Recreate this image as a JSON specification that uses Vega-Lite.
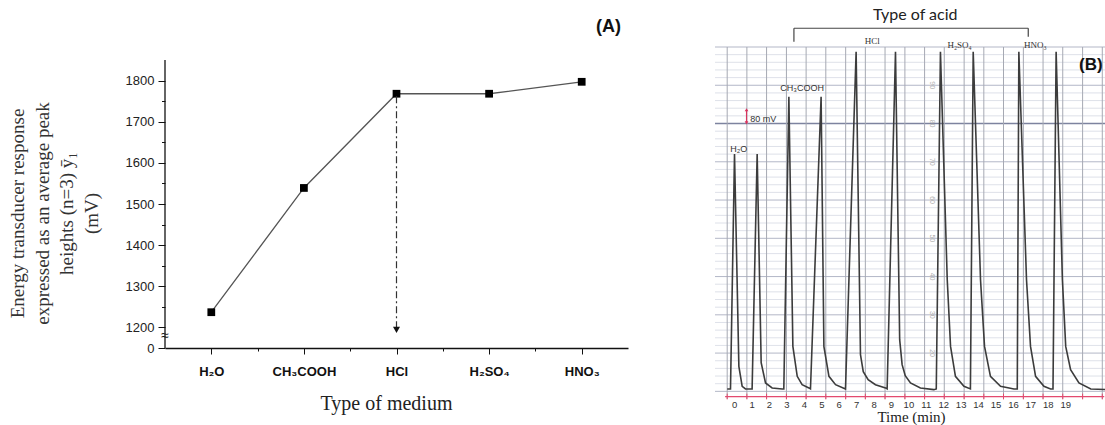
{
"$schema": "https://vega.github.io/schema/vega-lite/v6.json",
"background": "white",
"padding": {"left": 8, "top": 6, "right": 0, "bottom": 0},
"spacing": 86,
"config": {"view": {"stroke": null}, "font": "Liberation Sans", "axis": {"labelOverlap": false}},
"hconcat": [
{
 "width": 463, "height": 301,
 "title": {"text": "(A)", "anchor": "end", "offset": 11, "dx": -7, "font": "Liberation Sans", "fontSize": 18, "fontWeight": "bold", "color": "#111"},
 "layer": [
  {
   "data": {"values": [{"x": 0.5, "y": 1150, "y2": 1850}]},
   "mark": {"type": "rule", "color": "#111", "strokeWidth": 1.3},
   "encoding": {
    "x": {"field": "x", "type": "quantitative", "scale": {"domain": [0.5, 5.5], "nice": false, "zero": false},
     "axis": {"values": [1, 1.5, 2, 2.5, 3, 3.5, 4, 4.5, 5], "tickCount": 100,
      "labelExpr": "datum.value==1?'H₂O':datum.value==2?'CH₃COOH':datum.value==3?'HCl':datum.value==4?'H₂SO₄':datum.value==5?'HNO₃':''",
      "title": "Type of medium", "titleFont": "Liberation Serif", "titleFontSize": 20, "titleFontWeight": "normal", "titleColor": "#222", "titlePadding": 15, "titleX": 221,
      "labelFont": "Liberation Sans", "labelFontSize": 13, "labelFontWeight": "bold", "labelColor": "#111", "labelPadding": 11, "labelOverlap": false, "labelFlush": false,
      "tickSize": {"condition": {"test": "datum.value % 1 === 0", "value": 6}, "value": 3},
      "tickColor": "#111", "tickWidth": 1, "domainColor": "#111", "domainWidth": 1.3, "grid": false}},
    "y": {"field": "y", "type": "quantitative", "scale": {"domain": [1150, 1881.6], "nice": false, "zero": false},
     "axis": {"values": [1150, 1200, 1250, 1300, 1350, 1400, 1450, 1500, 1550, 1600, 1650, 1700, 1750, 1800], "tickCount": 100,
      "labelExpr": "datum.value==1150?'0':(datum.value%100==0?format(datum.value,'d'):'')",
      "tickSize": {"condition": {"test": "datum.value % 100 === 0 || datum.value === 1150", "value": 7}, "value": 3.5},
      "tickColor": "#111", "tickWidth": 1, "domain": false, "grid": false,
      "labelFont": "Liberation Sans", "labelFontSize": 13, "labelColor": "#222", "labelPadding": 4, "labelOverlap": false, "labelFlush": false,
      "title": ["Energy transducer response", "expressed as an average peak", "heights (n=3) ȳ₁", "(mV)"],
      "titleFont": "Liberation Serif", "titleFontSize": 19, "titleFontWeight": "normal", "titleColor": "#333", "titleLineHeight": 24.5, "titlePadding": 24, "titleY": 166}},
    "y2": {"field": "y2"}
   }
  },
  {
   "data": {"values": [{"medium": "H₂O", "x": 1, "y": 1237}, {"medium": "CH₃COOH", "x": 2, "y": 1539}, {"medium": "HCl", "x": 3, "y": 1768}, {"medium": "H₂SO₄", "x": 4, "y": 1768}, {"medium": "HNO₃", "x": 5, "y": 1797}]},
   "layer": [
    {"mark": {"type": "line", "color": "#555", "strokeWidth": 1.3},
     "encoding": {"x": {"field": "x", "type": "quantitative", "scale": {"domain": [0.5, 5.5], "nice": false, "zero": false}},
                  "y": {"field": "y", "type": "quantitative", "scale": {"domain": [1150, 1881.6], "nice": false, "zero": false}}}},
    {"mark": {"type": "point", "shape": "square", "filled": true, "color": "#000", "size": 60, "opacity": 1},
     "encoding": {"x": {"field": "x", "type": "quantitative", "scale": {"domain": [0.5, 5.5], "nice": false, "zero": false}},
                  "y": {"field": "y", "type": "quantitative", "scale": {"domain": [1150, 1881.6], "nice": false, "zero": false}}}}
   ]
  },
  {
   "data": {"values": [{"x": 3, "y": 1762, "y2": 1198}]},
   "mark": {"type": "rule", "color": "#333", "strokeWidth": 1.2, "strokeDash": [7, 3, 2, 3]},
   "encoding": {"x": {"field": "x", "type": "quantitative", "scale": {"domain": [0.5, 5.5], "nice": false, "zero": false}},
                "y": {"field": "y", "type": "quantitative", "scale": {"domain": [1150, 1881.6], "nice": false, "zero": false}},
                "y2": {"field": "y2"}}
  },
  {
   "data": {"values": [{"x": 3, "y": 1194}]},
   "mark": {"type": "point", "shape": "triangle-down", "filled": true, "color": "#111", "size": 50, "opacity": 1},
   "encoding": {"x": {"field": "x", "type": "quantitative", "scale": {"domain": [0.5, 5.5], "nice": false, "zero": false}},
                "y": {"field": "y", "type": "quantitative", "scale": {"domain": [1150, 1881.6], "nice": false, "zero": false}}}
  },
  {
   "data": {"values": [{"x": 0.5, "y": 1178, "label": "≈"}]},
   "mark": {"type": "text", "fontSize": 14, "color": "#111", "align": "center", "baseline": "middle"},
   "encoding": {"x": {"field": "x", "type": "quantitative", "scale": {"domain": [0.5, 5.5], "nice": false, "zero": false}},
                "y": {"field": "y", "type": "quantitative", "scale": {"domain": [1150, 1881.6], "nice": false, "zero": false}},
                "text": {"field": "label"}}
  }
 ]
},
{
 "width": 392, "height": 352,
 "layer": [
  {
   "data": {"values": [{"u": 12}, {"u": 14}, {"u": 16}, {"u": 18}, {"u": 22}, {"u": 24}, {"u": 26}, {"u": 28}, {"u": 32}, {"u": 34}, {"u": 36}, {"u": 38}, {"u": 42}, {"u": 44}, {"u": 46}, {"u": 48}, {"u": 52}, {"u": 54}, {"u": 56}, {"u": 58}, {"u": 62}, {"u": 64}, {"u": 66}, {"u": 68}, {"u": 72}, {"u": 74}, {"u": 76}, {"u": 78}, {"u": 82}, {"u": 84}, {"u": 86}, {"u": 88}, {"u": 92}, {"u": 94}, {"u": 96}, {"u": 98}]},
   "mark": {"type": "rule", "color": "#d6d9e3", "strokeWidth": 0.8},
   "encoding": {"y": {"field": "u", "type": "quantitative", "scale": {"domain": [8, 100], "nice": false, "zero": false}, "axis": null}}
  },
  {
   "data": {"values": [{"u": 10}, {"u": 20}, {"u": 30}, {"u": 40}, {"u": 50}, {"u": 60}, {"u": 70}, {"u": 90}, {"u": 100}]},
   "mark": {"type": "rule", "color": "#b3b7c7", "strokeWidth": 1},
   "encoding": {"y": {"field": "u", "type": "quantitative", "scale": {"domain": [8, 100], "nice": false, "zero": false}, "axis": null}}
  },
  {
   "data": {"values": [{"u": 80}]},
   "mark": {"type": "rule", "color": "#7d839f", "strokeWidth": 1.3},
   "encoding": {"y": {"field": "u", "type": "quantitative", "scale": {"domain": [8, 100], "nice": false, "zero": false}, "axis": null}}
  },
  {
   "data": {"values": [{"t": -0.4}, {"t": 0.73}, {"t": 1.86}, {"t": 3.0}, {"t": 4.13}, {"t": 5.26}, {"t": 6.4}, {"t": 7.53}, {"t": 8.66}, {"t": 9.8}, {"t": 10.93}, {"t": 12.06}, {"t": 13.2}, {"t": 14.33}, {"t": 15.46}, {"t": 16.6}, {"t": 17.73}, {"t": 18.86}, {"t": 20.0}, {"t": 21.13}]},
   "mark": {"type": "rule", "color": "#a6a9b3", "strokeWidth": 1},
   "encoding": {"x": {"field": "t", "type": "quantitative", "scale": {"domain": [-1.1, 21.4], "nice": false, "zero": false}}}
  },
  {
   "data": {"values": [{"t": 11.37, "u": 90, "label": "90"}, {"t": 11.37, "u": 80, "label": "80"}, {"t": 11.37, "u": 70, "label": "70"}, {"t": 11.37, "u": 60, "label": "60"}, {"t": 11.37, "u": 50, "label": "50"}, {"t": 11.37, "u": 40, "label": "40"}, {"t": 11.37, "u": 30, "label": "30"}, {"t": 11.37, "u": 20, "label": "20"}]},
   "mark": {"type": "text", "angle": 90, "fontSize": 7, "color": "#b0b0b0", "align": "center", "baseline": "middle"},
   "encoding": {"x": {"field": "t", "type": "quantitative", "scale": {"domain": [-1.1, 21.4], "nice": false, "zero": false}},
                "y": {"field": "u", "type": "quantitative", "scale": {"domain": [8, 100], "nice": false, "zero": false}, "axis": null},
                "text": {"field": "label"}}
  },
  {
   "data": {"values": [{"t": -0.52, "t2": 21.24, "u": 8.62}]},
   "mark": {"type": "rule", "color": "#e34a6f", "strokeWidth": 1.3},
   "encoding": {"x": {"field": "t", "type": "quantitative", "scale": {"domain": [-1.1, 21.4], "nice": false, "zero": false}},
                "x2": {"field": "t2"},
                "y": {"field": "u", "type": "quantitative", "scale": {"domain": [8, 100], "nice": false, "zero": false}, "axis": null}}
  },
  {
   "data": {"values": [{"t": -0.4, "u": 7.9, "u2": 9.4}, {"t": 0.73, "u": 7.9, "u2": 9.4}, {"t": 1.86, "u": 7.9, "u2": 9.4}, {"t": 3.0, "u": 7.9, "u2": 9.4}, {"t": 4.13, "u": 7.9, "u2": 9.4}, {"t": 5.26, "u": 7.9, "u2": 9.4}, {"t": 6.4, "u": 7.9, "u2": 9.4}, {"t": 7.53, "u": 7.9, "u2": 9.4}, {"t": 8.66, "u": 7.9, "u2": 9.4}, {"t": 9.8, "u": 7.9, "u2": 9.4}, {"t": 10.93, "u": 7.9, "u2": 9.4}, {"t": 12.06, "u": 7.9, "u2": 9.4}, {"t": 13.2, "u": 7.9, "u2": 9.4}, {"t": 14.33, "u": 7.9, "u2": 9.4}, {"t": 15.46, "u": 7.9, "u2": 9.4}, {"t": 16.6, "u": 7.9, "u2": 9.4}, {"t": 17.73, "u": 7.9, "u2": 9.4}, {"t": 18.86, "u": 7.9, "u2": 9.4}, {"t": 20.0, "u": 7.9, "u2": 9.4}, {"t": 21.13, "u": 7.9, "u2": 9.4}]},
   "mark": {"type": "rule", "color": "#e34a6f", "strokeWidth": 1},
   "encoding": {"x": {"field": "t", "type": "quantitative", "scale": {"domain": [-1.1, 21.4], "nice": false, "zero": false}},
                "y": {"field": "u", "type": "quantitative", "scale": {"domain": [8, 100], "nice": false, "zero": false}, "axis": null},
                "y2": {"field": "u2"}}
  },
  {
   "data": {"values": [
    {"i": 1, "t": -0.4, "u": 10.63}, {"i": 2, "t": -0.21, "u": 10.63}, {"i": 3, "t": 0.02, "u": 72.06}, {"i": 4, "t": 0.27, "u": 16.53}, {"i": 5, "t": 0.46, "u": 11.31}, {"i": 6, "t": 0.65, "u": 10.63},
    {"i": 7, "t": 1.03, "u": 10.63}, {"i": 8, "t": 1.32, "u": 72.06}, {"i": 9, "t": 1.55, "u": 17.49}, {"i": 10, "t": 1.8, "u": 12.19}, {"i": 11, "t": 2.18, "u": 10.89}, {"i": 12, "t": 2.76, "u": 10.63},
    {"i": 13, "t": 2.85, "u": 10.63}, {"i": 14, "t": 3.14, "u": 87.02}, {"i": 15, "t": 3.37, "u": 21.75}, {"i": 16, "t": 3.62, "u": 13.92}, {"i": 17, "t": 3.9, "u": 11.75}, {"i": 18, "t": 4.29, "u": 10.89},
    {"i": 19, "t": 4.38, "u": 10.63}, {"i": 20, "t": 4.99, "u": 87.02}, {"i": 21, "t": 5.15, "u": 21.75}, {"i": 22, "t": 5.44, "u": 13.92}, {"i": 23, "t": 5.82, "u": 11.75}, {"i": 24, "t": 6.39, "u": 10.63},
    {"i": 25, "t": 7.0, "u": 98.77}, {"i": 26, "t": 7.25, "u": 19.58}, {"i": 27, "t": 7.41, "u": 15.14}, {"i": 28, "t": 7.69, "u": 13.05}, {"i": 29, "t": 8.11, "u": 11.75}, {"i": 30, "t": 8.69, "u": 10.89},
    {"i": 31, "t": 8.78, "u": 10.63}, {"i": 32, "t": 9.26, "u": 98.77}, {"i": 33, "t": 9.5, "u": 23.5}, {"i": 34, "t": 9.64, "u": 16.97}, {"i": 35, "t": 9.82, "u": 14.1}, {"i": 36, "t": 10.12, "u": 12.19},
    {"i": 37, "t": 10.69, "u": 10.89}, {"i": 38, "t": 11.46, "u": 10.44}, {"i": 39, "t": 11.6, "u": 10.63}, {"i": 40, "t": 11.84, "u": 98.77}, {"i": 41, "t": 12.23, "u": 39.16}, {"i": 42, "t": 12.42, "u": 21.75},
    {"i": 43, "t": 12.7, "u": 13.92}, {"i": 44, "t": 13.19, "u": 11.31}, {"i": 45, "t": 13.56, "u": 10.63}, {"i": 46, "t": 13.72, "u": 98.77}, {"i": 47, "t": 14.14, "u": 39.16}, {"i": 48, "t": 14.37, "u": 21.75},
    {"i": 49, "t": 14.71, "u": 13.92}, {"i": 50, "t": 15.29, "u": 11.31}, {"i": 51, "t": 16.06, "u": 10.63}, {"i": 52, "t": 16.25, "u": 10.63}, {"i": 53, "t": 16.34, "u": 98.77}, {"i": 54, "t": 16.78, "u": 39.16},
    {"i": 55, "t": 17.01, "u": 21.75}, {"i": 56, "t": 17.3, "u": 13.92}, {"i": 57, "t": 17.78, "u": 11.31}, {"i": 58, "t": 18.16, "u": 10.63}, {"i": 59, "t": 18.3, "u": 10.63}, {"i": 60, "t": 18.48, "u": 98.77},
    {"i": 61, "t": 18.84, "u": 39.16}, {"i": 62, "t": 19.03, "u": 21.75}, {"i": 63, "t": 19.31, "u": 15.67}, {"i": 64, "t": 19.79, "u": 12.19}, {"i": 65, "t": 20.47, "u": 10.63}, {"i": 66, "t": 21.41, "u": 10.44}
   ]},
   "mark": {"type": "line", "color": "#3c3c3c", "strokeWidth": 1.6},
   "encoding": {
    "x": {"field": "t", "type": "quantitative", "scale": {"domain": [-1.1, 21.4], "nice": false, "zero": false},
     "axis": {"values": [0, 1, 2, 3, 4, 5, 6, 7, 8, 9, 10, 11, 12, 13, 14, 15, 16, 17, 18, 19], "tickCount": 100, "format": "d",
      "title": "Time (min)", "titleFont": "Liberation Serif", "titleFontSize": 15, "titleFontWeight": "normal", "titleColor": "#222", "titlePadding": 1,
      "labelFont": "Liberation Sans", "labelFontSize": 9.5, "labelColor": "#333", "labelPadding": 0, "labelOverlap": false, "labelFlush": false,
      "ticks": false, "tickSize": 0, "domain": false, "grid": false}},
    "y": {"field": "u", "type": "quantitative", "scale": {"domain": [8, 100], "nice": false, "zero": false}, "axis": null},
    "order": {"field": "i"}
   }
  },
  {
   "data": {"values": [{"t": 3.43, "t2": 16.88, "u": 104.9, "u2": 104.9}, {"t": 3.43, "t2": 3.43, "u": 101.4, "u2": 104.9}, {"t": 16.88, "t2": 16.88, "u": 102.7, "u2": 104.9}]},
   "mark": {"type": "rule", "color": "#444", "strokeWidth": 1.2},
   "encoding": {"x": {"field": "t", "type": "quantitative", "scale": {"domain": [-1.1, 21.4], "nice": false, "zero": false}},
                "x2": {"field": "t2"},
                "y": {"field": "u", "type": "quantitative", "scale": {"domain": [8, 100], "nice": false, "zero": false}, "axis": null},
                "y2": {"field": "u2"}}
  },
  {
   "data": {"values": [{"t": 10.39, "u": 108.4, "label": "Type of acid"}]},
   "mark": {"type": "text", "font": "Lato", "fontSize": 16, "color": "#222", "align": "center", "baseline": "middle"},
   "encoding": {"x": {"field": "t", "type": "quantitative", "scale": {"domain": [-1.1, 21.4], "nice": false, "zero": false}},
                "y": {"field": "u", "type": "quantitative", "scale": {"domain": [8, 100], "nice": false, "zero": false}, "axis": null},
                "text": {"field": "label"}}
  },
  {
   "data": {"values": [{"t": 7.92, "u": 101.6, "label": "HCl"}, {"t": 12.94, "u": 100.4, "label": "H₂SO₄"}, {"t": 17.28, "u": 100.5, "label": "HNO₃"}]},
   "mark": {"type": "text", "font": "Liberation Serif", "fontSize": 9, "color": "#333", "align": "center", "baseline": "middle"},
   "encoding": {"x": {"field": "t", "type": "quantitative", "scale": {"domain": [-1.1, 21.4], "nice": false, "zero": false}},
                "y": {"field": "u", "type": "quantitative", "scale": {"domain": [8, 100], "nice": false, "zero": false}, "axis": null},
                "text": {"field": "label"}}
  },
  {
   "data": {"values": [{"t": 0.26, "u": 73.4, "label": "H₂O"}, {"t": 3.9, "u": 89.3, "label": "CH₃COOH"}]},
   "mark": {"type": "text", "font": "Liberation Sans", "fontSize": 9, "color": "#333", "align": "center", "baseline": "middle"},
   "encoding": {"x": {"field": "t", "type": "quantitative", "scale": {"domain": [-1.1, 21.4], "nice": false, "zero": false}},
                "y": {"field": "u", "type": "quantitative", "scale": {"domain": [8, 100], "nice": false, "zero": false}, "axis": null},
                "text": {"field": "label"}}
  },
  {
   "data": {"values": [{"t": 0.92, "u": 81.2, "label": "80 mV"}]},
   "mark": {"type": "text", "font": "Liberation Sans", "fontSize": 9, "color": "#333", "align": "left", "baseline": "middle"},
   "encoding": {"x": {"field": "t", "type": "quantitative", "scale": {"domain": [-1.1, 21.4], "nice": false, "zero": false}},
                "y": {"field": "u", "type": "quantitative", "scale": {"domain": [8, 100], "nice": false, "zero": false}, "axis": null},
                "text": {"field": "label"}}
  },
  {
   "data": {"values": [{"t": 0.71, "u": 80.2, "u2": 83.6}]},
   "mark": {"type": "rule", "color": "#d8345f", "strokeWidth": 1.2},
   "encoding": {"x": {"field": "t", "type": "quantitative", "scale": {"domain": [-1.1, 21.4], "nice": false, "zero": false}},
                "y": {"field": "u", "type": "quantitative", "scale": {"domain": [8, 100], "nice": false, "zero": false}, "axis": null},
                "y2": {"field": "u2"}}
  },
  {
   "data": {"values": [{"t": 0.71, "u": 83.6}]},
   "mark": {"type": "point", "shape": "triangle-up", "filled": true, "color": "#d8345f", "size": 14, "opacity": 1},
   "encoding": {"x": {"field": "t", "type": "quantitative", "scale": {"domain": [-1.1, 21.4], "nice": false, "zero": false}},
                "y": {"field": "u", "type": "quantitative", "scale": {"domain": [8, 100], "nice": false, "zero": false}, "axis": null}}
  },
  {
   "data": {"values": [{"t": 0.71, "u": 80.2}]},
   "mark": {"type": "point", "shape": "triangle-down", "filled": true, "color": "#d8345f", "size": 14, "opacity": 1},
   "encoding": {"x": {"field": "t", "type": "quantitative", "scale": {"domain": [-1.1, 21.4], "nice": false, "zero": false}},
                "y": {"field": "u", "type": "quantitative", "scale": {"domain": [8, 100], "nice": false, "zero": false}, "axis": null}}
  },
  {
   "data": {"values": [{"t": 19.8, "u": 95.3, "label": "(B)"}]},
   "mark": {"type": "text", "font": "Liberation Sans", "fontSize": 17, "fontWeight": "bold", "color": "#111", "align": "left", "baseline": "middle"},
   "encoding": {"x": {"field": "t", "type": "quantitative", "scale": {"domain": [-1.1, 21.4], "nice": false, "zero": false}},
                "y": {"field": "u", "type": "quantitative", "scale": {"domain": [8, 100], "nice": false, "zero": false}, "axis": null},
                "text": {"field": "label"}}
  }
 ]
}
]
}
